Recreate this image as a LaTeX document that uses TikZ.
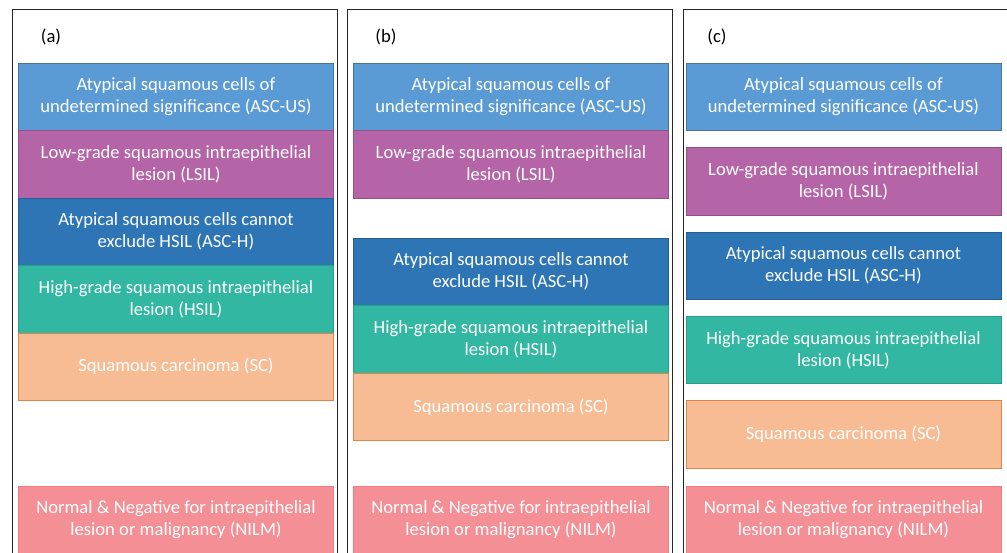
\documentclass[tikz,border=0pt]{standalone}
\usepackage{fontspec}
\setmainfont{Carlito}
\usetikzlibrary{positioning}
\definecolor{ascusblue}{RGB}{91,155,213}
\definecolor{lsilpurple}{RGB}{181,101,167}
\definecolor{aschblue}{RGB}{46,117,182}
\definecolor{hsilteal}{RGB}{50,184,162}
\definecolor{scpeach}{RGB}{248,188,149}
\definecolor{scedge}{RGB}{226,132,72}
\definecolor{nilmpink}{RGB}{244,143,150}

\tikzset{
  panel/.style={draw=black!85, line width=0.55pt},
  tag/.style={font=\fontsize{10.6pt}{12pt}\selectfont, text=black},
  grade/.style={minimum width=6.3cm, minimum height=1.35cm, inner sep=0pt, outer sep=0pt,
    align=center, text=white, line width=0.5pt, font=\fontsize{10.6pt}{12.6pt}\selectfont},
  ascus/.style={grade, fill=ascusblue, draw=ascusblue!75!black},
  lsil/.style={grade, fill=lsilpurple, draw=lsilpurple!80!black},
  asch/.style={grade, fill=aschblue, draw=aschblue!80!black},
  hsil/.style={grade, fill=hsilteal, draw=hsilteal!85!black},
  sc/.style={grade, fill=scpeach, draw=scedge},
  nilm/.style={grade, fill=nilmpink, draw=nilmpink!85!red},
}

\begin{document}
\begin{tikzpicture}[x=0.02cm, y=-0.02cm]
  \useasboundingbox (0,0) rectangle (1007,553);
  \clip (0,0) rectangle (1007,553);

  % Panel frames
  \draw[panel] (12.5,570) -- (12.5,9.5) -- (337.5,9.5) -- (337.5,570);
  \draw[panel] (347.5,570) -- (347.5,9.5) -- (672,9.5) -- (672,570);
  \draw[panel] (683,570) -- (683,9.5) -- (1020,9.5);

  \node[tag] (taga) at (51,37) {(a)};
  \node[tag] (tagb) at (386,37) {(b)};
  \node[tag] (tagc) at (717,37) {(c)};

  % (a) all grades stacked
  \node[ascus, anchor=north west] (a1) at (18.5,63) {Atypical squamous cells of\\undetermined significance (ASC-US)};
  \node[lsil, below=0pt of a1] (a2) {Low-grade squamous intraepithelial\\lesion (LSIL)};
  \node[asch, below=0pt of a2] (a3) {Atypical squamous cells cannot\\exclude HSIL (ASC-H)};
  \node[hsil, below=0pt of a3] (a4) {High-grade squamous intraepithelial\\lesion (HSIL)};
  \node[sc, below=0pt of a4] (a5) {Squamous carcinoma (SC)};
  \node[nilm, anchor=north west] (a6) at (18.5,486) {Normal \& Negative for intraepithelial\\lesion or malignancy (NILM)};

  % (b) low grade / high grade
  \node[ascus, anchor=north west] (b1) at (353.5,63) {Atypical squamous cells of\\undetermined significance (ASC-US)};
  \node[lsil, below=0pt of b1] (b2) {Low-grade squamous intraepithelial\\lesion (LSIL)};
  \node[asch, anchor=north west] (b3) at (353.5,238) {Atypical squamous cells cannot\\exclude HSIL (ASC-H)};
  \node[hsil, below=0pt of b3] (b4) {High-grade squamous intraepithelial\\lesion (HSIL)};
  \node[sc, below=0pt of b4] (b5) {Squamous carcinoma (SC)};
  \node[nilm, anchor=north west] (b6) at (353.5,486) {Normal \& Negative for intraepithelial\\lesion or malignancy (NILM)};

  % (c) every grade apart
  \node[ascus, anchor=north west] (c1) at (686,63) {Atypical squamous cells of\\undetermined significance (ASC-US)};
  \node[lsil, below=0.34cm of c1] (c2) {Low-grade squamous intraepithelial\\lesion (LSIL)};
  \node[asch, below=0.34cm of c2] (c3) {Atypical squamous cells cannot\\exclude HSIL (ASC-H)};
  \node[hsil, below=0.34cm of c3] (c4) {High-grade squamous intraepithelial\\lesion (HSIL)};
  \node[sc, below=0.34cm of c4] (c5) {Squamous carcinoma (SC)};
  \node[nilm, anchor=north west] (c6) at (686,486) {Normal \& Negative for intraepithelial\\lesion or malignancy (NILM)};
\end{tikzpicture}
\end{document}
